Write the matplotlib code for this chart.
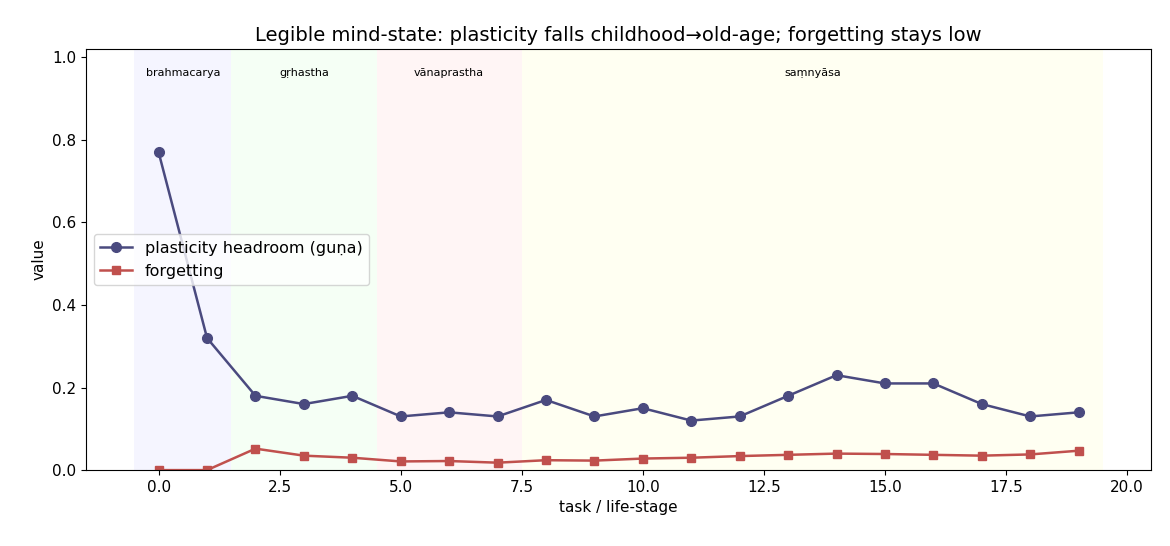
import matplotlib
matplotlib.use("Agg")
import matplotlib.pyplot as plt

tasks = list(range(20))
plasticity = [0.77,0.32,0.18,0.16,0.18,0.13,0.14,0.13,0.17,0.13,0.15,0.12,0.13,0.18,0.23,0.21,0.21,0.16,0.13,0.14]
forgetting = [0.0,0.0,0.052,0.035,0.03,0.021,0.022,0.018,0.024,0.023,0.028,0.03,0.034,0.037,0.04,0.039,0.037,0.035,0.038,0.047]
stages = ["brahmacarya","gṛhastha","vānaprastha","saṃnyāsa"]
stage_bounds = [(-0.5,1.5),(1.5,4.5),(4.5,7.5),(7.5,19.5)]
stage_colors = ["#e8e8ff","#e6ffe6","#ffe8e8","#ffffe0"]

fig, ax = plt.subplots(figsize=(11.7,5.46), dpi=100)
fig.subplots_adjust(left=0.0735, right=0.984, top=0.91, bottom=0.139)
for (a,b),c,s in zip(stage_bounds, stage_colors, stages):
    ax.axvspan(a,b,color=c,alpha=0.4,lw=0)
    ax.text((a+b)/2, 0.95, s, ha="center", va="bottom", fontsize=8)
ax.plot(tasks, plasticity, "-o", color="#4a4a7f", lw=1.8, ms=7, label="plasticity headroom (guṇa)")
ax.plot(tasks, forgetting, "-s", color="#c0504d", lw=1.8, ms=6, label="forgetting")
ax.set_xlim(-1.5,20.5)
ax.set_ylim(0,1.02)
ax.set_xlabel("task / life-stage", fontsize=11)
ax.set_ylabel("value", fontsize=11)
ax.tick_params(labelsize=11)
ax.set_title("Legible mind-state: plasticity falls childhood→old-age; forgetting stays low", fontsize=14)
ax.legend(loc="center left", fontsize=11.5)
fig.savefig("out.png")
